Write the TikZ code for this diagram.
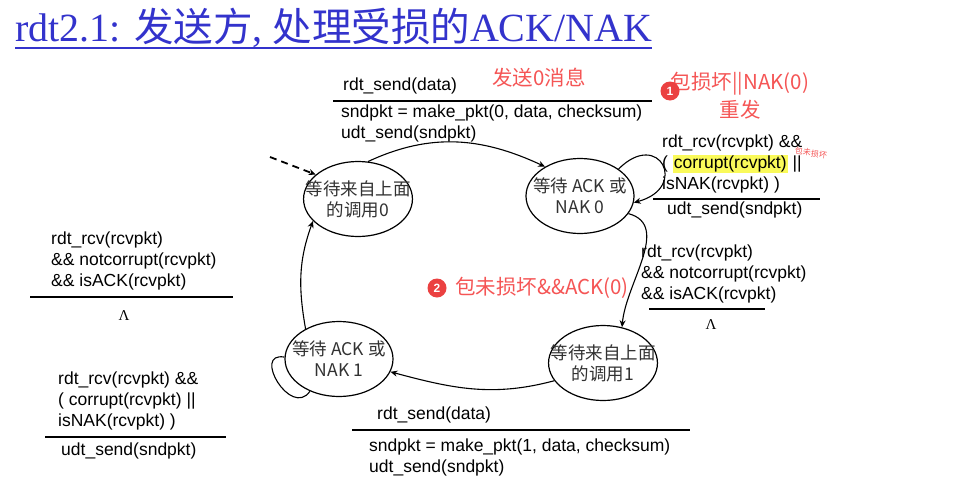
\documentclass[tikz,border=0pt]{standalone}
\usepackage{fontspec}
\setmainfont{Liberation Serif}
\setsansfont{Liberation Sans}
\newfontfamily\cjk{Noto Sans CJK SC}
\usepackage{xcolor}
\usepackage{tikz}
\usetikzlibrary{arrows.meta,shapes.geometric}
\definecolor{ttlblue}{RGB}{51,51,204}
\definecolor{notered}{RGB}{245,85,85}
\definecolor{markred}{RGB}{235,65,65}
\definecolor{hlyellow}{RGB}{250,250,90}
\definecolor{stategray}{RGB}{50,50,50}
\setlength{\fboxsep}{1pt}
\tikzset{
  fsmstate/.style = {ellipse, draw=black, line width=1.2pt, minimum width=108pt,
                     minimum height=75pt, inner xsep=-14pt, inner ysep=0pt, align=center,
                     font=\cjk\fontsize{17.5}{21}\selectfont, text=stategray},
  fsmtxt/.style   = {anchor=west, align=left, inner sep=0pt,
                     font=\sffamily\fontsize{17.5}{21}\selectfont},
  fsmrule/.style  = {line width=1.8pt},
  fsmflow/.style  = {-{Stealth[length=7pt,width=6pt]}, line width=1.1pt},
  fsmlam/.style   = {inner sep=0pt, font=\rmfamily\fontsize{15}{15}\selectfont},
  rednote/.style  = {text=notered, inner sep=0pt, align=center,
                     font=\cjk\fontsize{20.5}{28}\selectfont},
  redmark/.style  = {circle, fill=markred, text=white, inner sep=0pt, minimum size=19pt,
                     font=\sffamily\bfseries\fontsize{12}{12}\selectfont},
}

\begin{document}
\begin{tikzpicture}[x=1pt,y=1pt]
  \fill[white] (0,0) rectangle (955,-490);
  \useasboundingbox (0,0) rectangle (955,-490);

  % title
  \node[anchor=west, inner sep=0pt, text=ttlblue, font=\rmfamily\fontsize{40}{40}\selectfont]
        (ttl) at (15,-28) {rdt2.1: {\cjk\fontsize{39.5}{40}\selectfont 发送方}, {\cjk\fontsize{39.5}{40}\selectfont 处理受损的}ACK/NAK};
  \draw[ttlblue, line width=1.5pt] (15,-48) -- (652,-48);

  % states
  \node[fsmstate] (wcall0) at (358,-199) {等待来自上面\\的调用0};
  \node[fsmstate] (wack0)  at (580,-196) {等待 ACK 或\\NAK 0};
  \node[fsmstate] (wcall1) at (603,-363) {等待来自上面\\的调用1};
  \node[fsmstate] (wack1)  at (339,-359) {等待 ACK 或\\NAK 1};

  \coordinate (init) at (270,-157);
  \draw[fsmflow, line width=1.8pt, dash pattern=on 7pt off 5pt] (init) -- (wcall0.150);
  \draw[fsmflow] (wcall0.75) to[out=25,in=155] (wack0.140);
  \draw[fsmflow] (wack0.35) to[out=45,in=15,looseness=4] (wack0.-7);
  \draw[fsmflow] (wack0.-20) to[out=-15,in=85] (wcall1.62);
  \draw[fsmflow] (wcall1.200) to[out=195,in=-15] (wack1.-14);
  \draw[line width=1.1pt] (wack1.178) to[out=170,in=235,looseness=2] (wack1.228);
  \draw[fsmflow] (wack1.138) to[out=100,in=250] (wcall0.206);

  % transition labels
  \node[fsmtxt] (snd0ev)  at (343,-86)    {rdt\_send(data)};
  \node[fsmtxt] (snd0act) at (341,-123.5) {sndpkt = make\_pkt(0, data, checksum)\\udt\_send(sndpkt)};
  \draw[fsmrule] (333,-101) -- (652,-101);

  \node[fsmtxt] (rs0cond) at (662,-164) {rdt\_rcv(rcvpkt) \&\&\\( \colorbox{hlyellow}{corrupt(rcvpkt)} ||\\isNAK(rcvpkt) )};
  \node[fsmtxt] (rs0act)  at (667,-210) {udt\_send(sndpkt)};
  \draw[fsmrule] (653,-199) -- (820,-199);

  \node[fsmtxt] (ack0cond) at (641,-274) {rdt\_rcv(rcvpkt)\\\&\& notcorrupt(rcvpkt)\\\&\& isACK(rcvpkt)};
  \draw[fsmrule] (649,-309) -- (765,-309);
  \node[fsmlam] (ack0lam) at (711,-325) {Λ};

  \node[fsmtxt] (ack1cond) at (51,-261) {rdt\_rcv(rcvpkt)\\\&\& notcorrupt(rcvpkt)\\\&\& isACK(rcvpkt)};
  \draw[fsmrule] (30,-297) -- (233,-297);
  \node[fsmlam] (ack1lam) at (124,-316) {Λ};

  \node[fsmtxt] (rs1cond) at (58,-401) {rdt\_rcv(rcvpkt) \&\&\\( corrupt(rcvpkt) ||\\isNAK(rcvpkt) )};
  \node[fsmtxt] (rs1act)  at (61,-451) {udt\_send(sndpkt)};
  \draw[fsmrule] (45,-437) -- (226,-437);

  \node[fsmtxt] (snd1ev)  at (377,-415) {rdt\_send(data)};
  \node[fsmtxt] (snd1act) at (369,-457) {sndpkt = make\_pkt(1, data, checksum)\\udt\_send(sndpkt)};
  \draw[fsmrule] (352,-430) -- (690,-430);

  % red notes
  \node[rednote] (note0)  at (539,-78) {发送0消息};
  \node[rednote] (noters) at (740,-96) {包损坏||NAK(0)\\重发};
  \node[redmark] (mark1)  at (670,-91) {1};
  \node[rednote, anchor=west] (note2) at (455,-288) {包未损坏\&\&ACK(0)};
  \node[redmark] (mark2)  at (437,-288) {2};
  \node[rednote, font=\cjk\fontsize{8}{8}\selectfont, rotate=-8] (scrawl) at (811,-153) {包未损坏};
\end{tikzpicture}
\end{document}
